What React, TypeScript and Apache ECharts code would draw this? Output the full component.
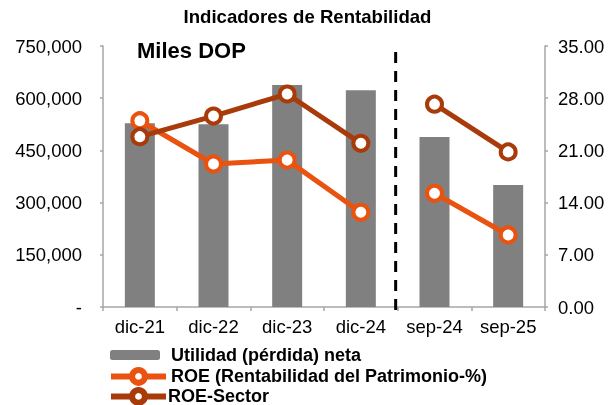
import React, { useEffect, useRef } from 'react';
import * as echarts from 'echarts';

const categories = ['dic-21', 'dic-22', 'dic-23', 'dic-24', 'sep-24', 'sep-25'];
const utilidad = [527800, 525000, 638000, 622700, 488500, 350600];
const roe = [24.98, 19.18, 19.7, 12.7, 15.25, 9.66];
const roeSector = [22.84, 25.6, 28.56, 21.95, 27.2, 20.8];
const lastAnnualIndex = 3;

const NAME_BAR = 'Utilidad (pérdida) neta';
const NAME_ROE = 'ROE (Rentabilidad del Patrimonio-%)';
const NAME_SEC = 'ROE-Sector';

const FONT = '"Liberation Sans", Arial, Helvetica, sans-serif';
const C_BAR = '#808080';
const C_ROE = '#E9520F';
const C_SEC = '#A93B0B';
const C_AXIS = '#A6A6A6';

const before = (arr: number[]) => arr.map((v, i) => (i <= lastAnnualIndex ? v : null));
const after = (arr: number[]) => arr.map((v, i) => (i > lastAnnualIndex ? v : null));

const lineSeries = (name: string, color: string, data: (number | null)[]) => ({
  name,
  type: 'line',
  yAxisIndex: 1,
  data,
  symbol: 'circle',
  symbolSize: 15,
  showSymbol: true,
  connectNulls: false,
  z: 5,
  lineStyle: { color, width: 5 },
  itemStyle: { color: '#fff', borderColor: color, borderWidth: 4 },
});

export default function App() {
  const ref = useRef<HTMLDivElement>(null);
  useEffect(() => {
    document.body.style.margin = '0';
    const chart = echarts.init(ref.current!, null, { renderer: 'svg' });
    const legendText = { fontFamily: FONT, fontSize: 18, fontWeight: 'bold', color: '#000' };
    chart.setOption({
      animation: false,
      textStyle: { fontFamily: FONT },
      title: [
        {
          text: 'Indicadores de Rentabilidad',
          left: 'center',
          top: 7,
          padding: 0,
          textStyle: { fontFamily: FONT, fontSize: 18.6, fontWeight: 'bold', color: '#000' },
        },
        {
          text: 'Miles DOP',
          left: 137,
          top: 39,
          padding: 0,
          textStyle: { fontFamily: FONT, fontSize: 22, fontWeight: 'bold', color: '#000' },
        },
      ],
      grid: { left: 103, right: 70, top: 46, bottom: 98, containLabel: false },
      legend: [
        {
          data: [NAME_BAR],
          left: 110,
          top: 346,
          padding: 0,
          itemWidth: 50,
          itemHeight: 10,
          selectedMode: false,
          textStyle: { ...legendText, padding: [0, 0, 0, 6] },
        },
        {
          data: [NAME_ROE],
          left: 108,
          top: 367,
          padding: 0,
          itemWidth: 55,
          itemHeight: 16,
          selectedMode: false,
          itemStyle: { color: '#fff', borderColor: C_ROE, borderWidth: 6 },
          lineStyle: { color: C_ROE, width: 6 },
          textStyle: { ...legendText, padding: [0, 0, 0, 0] },
        },
        {
          data: [NAME_SEC],
          left: 108,
          top: 387,
          padding: 0,
          itemWidth: 55,
          itemHeight: 16,
          selectedMode: false,
          itemStyle: { color: '#fff', borderColor: C_SEC, borderWidth: 6 },
          lineStyle: { color: C_SEC, width: 6 },
          textStyle: { ...legendText, padding: [0, 0, 0, -3] },
        },
      ],
      xAxis: {
        type: 'category',
        data: categories,
        boundaryGap: true,
        axisLine: { lineStyle: { color: C_AXIS, width: 1.5 } },
        axisTick: { show: true, alignWithLabel: false, length: 4, lineStyle: { color: C_AXIS, width: 1.5 } },
        axisLabel: { color: '#000', fontSize: 18.5, fontFamily: FONT, margin: 10, interval: 0 },
        splitLine: { show: false },
      },
      yAxis: [
        {
          type: 'value',
          min: 0,
          max: 750000,
          interval: 150000,
          axisLine: { show: true, lineStyle: { color: C_AXIS, width: 1.5 } },
          axisTick: { show: true, length: 3, lineStyle: { color: C_AXIS, width: 1.5 } },
          axisLabel: {
            color: '#000',
            fontSize: 18.5,
            fontFamily: FONT,
            margin: 21,
            formatter: (v: number) => (v === 0 ? '-' : v.toLocaleString('en-US')),
          },
          splitLine: { show: false },
        },
        {
          type: 'value',
          min: 0,
          max: 35,
          interval: 7,
          position: 'right',
          axisLine: { show: true, lineStyle: { color: C_AXIS, width: 1.5 } },
          axisTick: { show: true, length: 3, lineStyle: { color: C_AXIS, width: 1.5 } },
          axisLabel: {
            color: '#000',
            fontSize: 18.5,
            fontFamily: FONT,
            margin: 13,
            formatter: (v: number) => v.toFixed(2),
          },
          splitLine: { show: false },
        },
      ],
      series: [
        {
          name: NAME_BAR,
          type: 'bar',
          data: utilidad,
          barWidth: 30,
          itemStyle: { color: C_BAR },
          z: 2,
        },
        lineSeries(NAME_ROE, C_ROE, before(roe)),
        lineSeries(NAME_ROE, C_ROE, after(roe)),
        lineSeries(NAME_SEC, C_SEC, before(roeSector)),
        lineSeries(NAME_SEC, C_SEC, after(roeSector)),
      ],
    });

    const xa = chart.convertToPixel({ xAxisIndex: 0 }, categories[lastAnnualIndex]) as number;
    const xb = chart.convertToPixel({ xAxisIndex: 0 }, categories[lastAnnualIndex + 1]) as number;
    const xm = (xa + xb) / 2 - 2;
    const yTop = (chart.convertToPixel({ yAxisIndex: 1 }, 35) as number) + 6;
    const yBot = (chart.convertToPixel({ yAxisIndex: 1 }, 0) as number) + 3;
    chart.setOption({
      graphic: [
        {
          type: 'line',
          shape: { x1: xm, y1: yTop, x2: xm, y2: yBot },
          style: { stroke: '#000', lineWidth: 3, lineDash: [11, 8] },
          z: 10,
        },
      ],
    });

    return () => chart.dispose();
  }, []);
  return (
    <div
      ref={ref}
      style={{ position: 'fixed', left: 0, top: 0, width: 615, height: 405 }}
    />
  );
}
